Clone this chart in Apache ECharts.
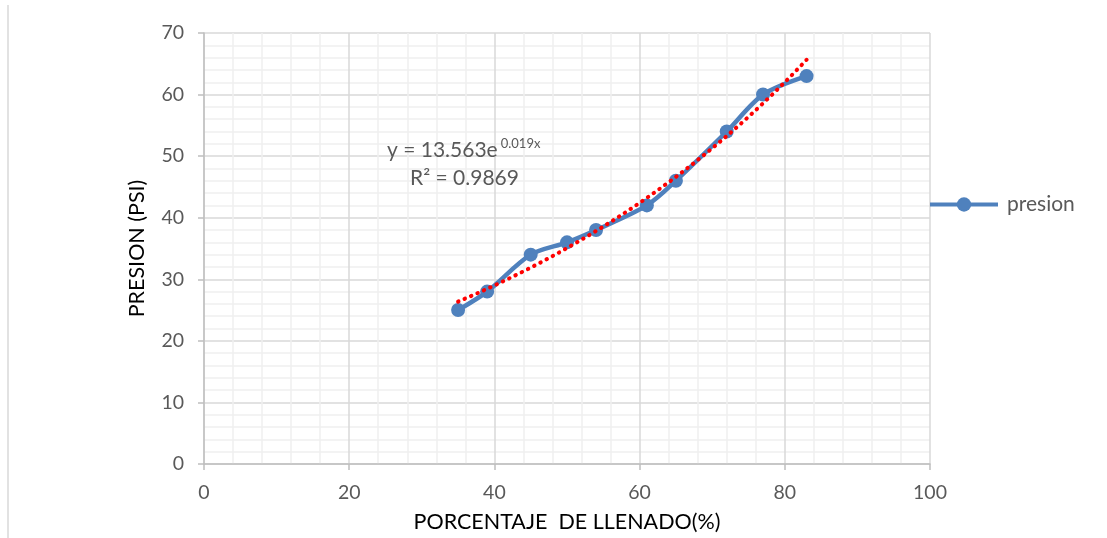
<!DOCTYPE html>
<html><head><meta charset="utf-8">
<script src="https://cdn.jsdelivr.net/npm/echarts@6/dist/echarts.min.js"></script>
<style>html,body{margin:0;padding:0;background:#fff}#c{width:1107px;height:538px}</style>
</head><body><div id="c"></div>
<script>
const llenado = [35, 39, 45, 50, 54, 61, 65, 72, 77, 83];
const presion = [25, 28, 34, 36, 38, 42, 46, 54, 60, 63];
const xTicks = [0, 20, 40, 60, 80, 100];
const yTicks = [0, 10, 20, 30, 40, 50, 60, 70];
const trendA = 13.563, trendB = 0.019, r2 = 0.9869;

// exponential trendline defined by the chart's equation, sampled over the data range
const trend = [];
const x0 = llenado[0], x1 = llenado[llenado.length - 1];
for (let i = 0; i <= 48; i++) { const x = x0 + (x1 - x0) * i / 48; trend.push([x, trendA * Math.exp(trendB * x)]); }

const FONT = 'Lato, "Open Sans", sans-serif';
const chart = echarts.init(document.getElementById('c'), null, {renderer: 'canvas'});
chart.setOption({
  animation: false,
  backgroundColor: '#fff',
  grid: {left: 204, right: 177, top: 33, bottom: 74},
  xAxis: {
    type: 'value', min: xTicks[0], max: xTicks[xTicks.length - 1], interval: 20,
    name: 'PORCENTAJE  DE LLENADO(%)', nameLocation: 'middle', nameGap: 47,
    nameTextStyle: {fontFamily: FONT, fontSize: 21.5, color: '#000'},
    axisLine: {lineStyle: {color: '#BFBFBF', width: 1.5}},
    axisTick: {show: true, length: 6, lineStyle: {color: '#BFBFBF', width: 1.5}},
    axisLabel: {fontFamily: FONT, fontSize: 19.5, color: '#595959', margin: 19},
    splitLine: {lineStyle: {color: '#D9D9D9', width: 1.5}},
    minorTick: {show: false, splitNumber: 5},
    minorSplitLine: {show: true, lineStyle: {color: '#EFEFEF', width: 1.5}}
  },
  yAxis: {
    type: 'value', min: yTicks[0], max: yTicks[yTicks.length - 1], interval: 10,
    name: 'PRESION (PSI)', nameLocation: 'middle', nameGap: 56, nameRotate: 90,
    nameTextStyle: {fontFamily: FONT, fontSize: 21.5, color: '#000'},
    axisLine: {show: true, lineStyle: {color: '#BFBFBF', width: 1.5}},
    axisTick: {show: true, length: 6, lineStyle: {color: '#BFBFBF', width: 1.5}},
    axisLabel: {fontFamily: FONT, fontSize: 19.5, color: '#595959', margin: 20},
    splitLine: {lineStyle: {color: '#D9D9D9', width: 1.5}},
    minorTick: {show: false, splitNumber: 5},
    minorSplitLine: {show: true, lineStyle: {color: '#EFEFEF', width: 1.5}}
  },
  legend: {
    data: ['presion'], left: 928, top: 194, orient: 'vertical', padding: 0,
    itemWidth: 68, itemHeight: 18, itemGap: 10,
    itemStyle: {borderWidth: 0},
    lineStyle: {width: 4},
    textStyle: {fontFamily: FONT, fontSize: 21, color: '#595959', padding: [0, 0, 0, 4]}
  },
  series: [
    {
      name: 'presion', type: 'line', smooth: 0.3,
      data: llenado.map((x, i) => [x, presion[i]]),
      symbol: 'circle', symbolSize: 14,
      itemStyle: {color: '#4F81BD'},
      lineStyle: {color: '#4F81BD', width: 4.5},
      z: 3
    },
    {
      name: 'trend', type: 'line', data: trend, symbol: 'none', smooth: false,
      lineStyle: {color: '#FF0000', width: 4, type: [0.5, 6.5], cap: 'round'},
      z: 4, silent: true
    }
  ],
  graphic: [
    {type: 'line', shape: {x1: 8, y1: 5, x2: 8, y2: 538}, style: {stroke: '#D9D9D9', lineWidth: 1.5}},
    {type: 'text', left: 387, top: 137, z: 100, style: {
      text: '{a|y = 13.563e}{b|0.019x}', rich: {
        a: {fontFamily: FONT, fontSize: 21, fill: '#595959', verticalAlign: 'bottom'},
        b: {fontFamily: FONT, fontSize: 13, fill: '#595959', verticalAlign: 'bottom', padding: [0, 0, 11, 3]}
      }}},
    {type: 'text', left: 410, top: 168, z: 100, style: {
      text: 'R² = ' + r2.toFixed(4), fontFamily: FONT, fontSize: 21, fill: '#595959'}}
  ]
});
</script></body></html>
